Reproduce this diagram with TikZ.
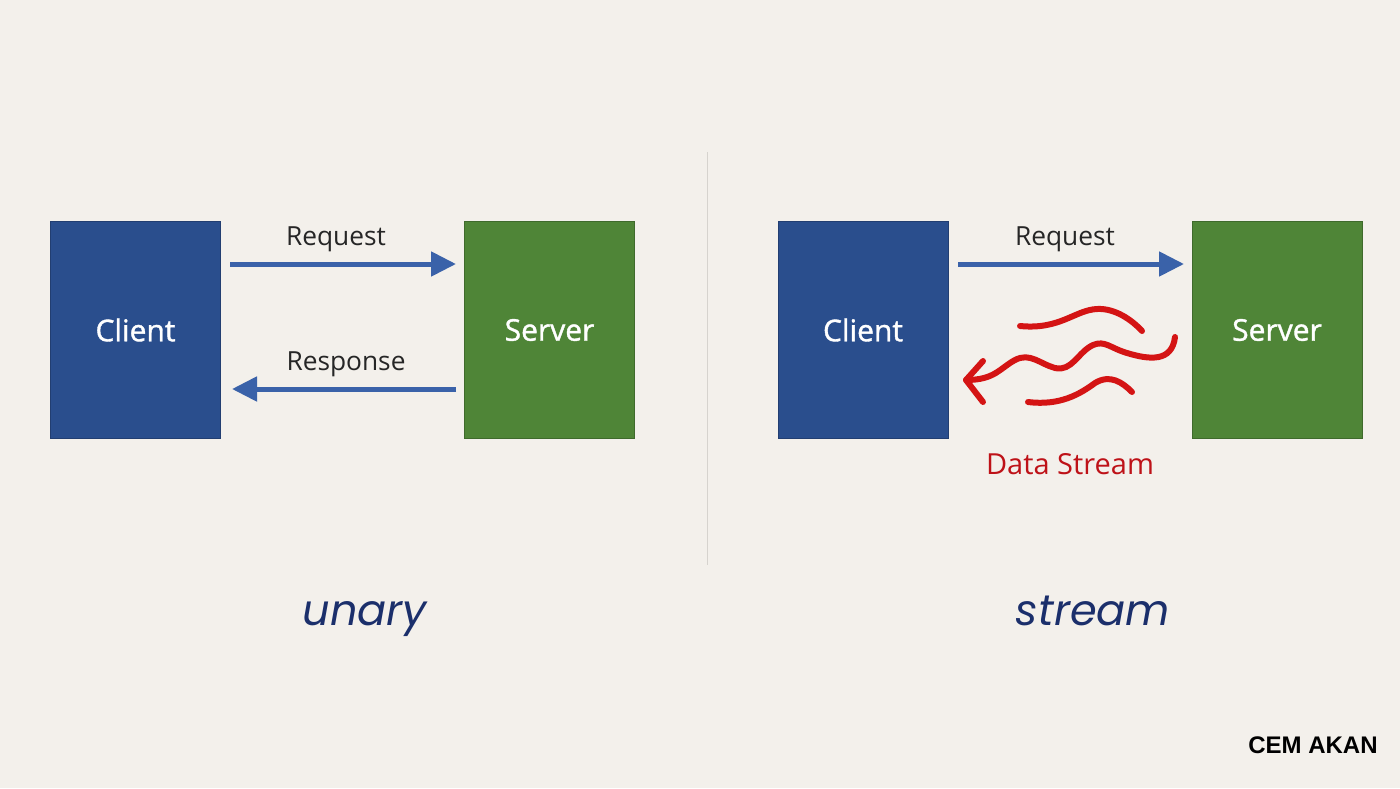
\documentclass[tikz,border=0pt]{standalone}
\usepackage{fontspec}
\setmainfont{Open Sans}
\newfontfamily\boxfont[FakeBold=1.2]{Open Sans}
\newfontfamily\titlefont{Poppins}
\newfontfamily\signfont{Liberation Sans}
\usetikzlibrary{arrows.meta}
\definecolor{bg}{HTML}{F3F0EB}
\definecolor{clientblue}{HTML}{2A4E8D}
\definecolor{servergreen}{HTML}{4F8537}
\definecolor{arrowblue}{HTML}{3A62A9}
\definecolor{streamred}{HTML}{D41414}
\definecolor{textred}{HTML}{BE1218}
\definecolor{navy}{HTML}{1B2F6B}
\definecolor{divider}{HTML}{D6D3CE}
\tikzset{
  box/.style={minimum width=170pt, minimum height=217pt, inner sep=0pt, text=white, font=\boxfont\fontsize{30}{34}\selectfont},
  clientbox/.style={box, fill=clientblue, draw=clientblue!80!black, line width=0.6pt},
  serverbox/.style={box, fill=servergreen, draw=servergreen!80!black, line width=0.6pt},
  msg/.style={draw=arrowblue, line width=5pt, -{Triangle[length=25pt, width=24pt]}},
  lbl/.style={font=\fontsize{26.3}{30}\selectfont, text=black!85},
  wave/.style={draw=streamred, line width=6pt, line cap=round, line join=round},
  caption/.style={anchor=base, inner sep=0pt, font=\titlefont\itshape\fontsize{43}{48}\selectfont, text=navy}
}
\begin{document}
\begin{tikzpicture}[x=1pt, y=-1pt]
\fill[bg] (0,0) rectangle (1400,788);
\useasboundingbox (0,0) rectangle (1400,788);
% divider
\coordinate (dtop) at (707,152);
\coordinate (dbot) at (707,565);
\draw[divider, line width=1pt] (dtop) -- (dbot);
% left: unary
\node[clientbox] (c1) at (135.5,330) {Client};
\node[serverbox] (s1) at (549.5,330) {Server};
\coordinate (r1a) at (230,264);
\coordinate (r1b) at (456,264);
\draw[msg] (r1a) -- (r1b);
\node[lbl] (req1) at (336,239) {Request};
\coordinate (p1a) at (456,389);
\coordinate (p1b) at (232,389);
\draw[msg] (p1a) -- (p1b);
\node[lbl] (resp1) at (346,364) {Response};
\node[caption] (unary) at (365,625) {unary};
% right: stream
\node[clientbox] (c2) at (863,330) {Client};
\node[serverbox] (s2) at (1277,330) {Server};
\coordinate (r2a) at (958,264);
\coordinate (r2b) at (1184,264);
\draw[msg] (r2a) -- (r2b);
\node[lbl] (req2) at (1065,239) {Request};
% waves
\draw[wave] (1020,326) .. controls (1060,330) and (1075,310) .. (1097,309)
  .. controls (1115,308) and (1132,320) .. (1142,331);
\draw[wave] (1175,337) .. controls (1172,362) and (1150,360) .. (1127,353)
  .. controls (1110,348) and (1105,340) .. (1093,345)
  .. controls (1078,352) and (1072,372) .. (1055,368)
  .. controls (1040,364) and (1030,352) .. (1015,360)
  .. controls (1000,368) and (995,380) .. (966,380);
\draw[wave] (983,361) -- (966,380) -- (983,402);
\draw[wave] (1028,402) .. controls (1060,406) and (1080,394) .. (1095,383)
  .. controls (1110,374) and (1122,382) .. (1132,392);
\node[anchor=base, inner sep=0pt, font=\fontsize{29}{34}\selectfont, text=textred] (ds) at (1070,474) {Data Stream};
\node[caption] (stream) at (1093,625) {stream};
% signature
\node[font=\signfont\bfseries\fontsize{24}{28}\selectfont, text=black] (sig) at (1313,745) {CEM AKAN};
\end{tikzpicture}
\end{document}
